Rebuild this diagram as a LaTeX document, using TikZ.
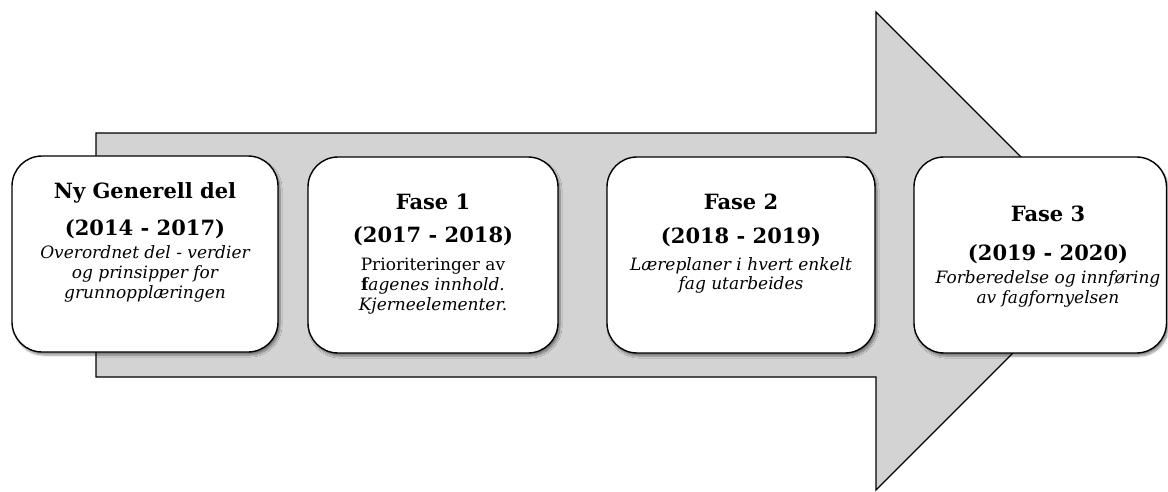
\documentclass[tikz,border=0pt]{standalone}
\usepackage{fontspec}
\setmainfont{DejaVu Serif}
\usetikzlibrary{shadows.blur}
\definecolor{arrowgray}{HTML}{D3D3D3}
\tikzset{
  phasebox/.style={draw=black, line width=1.4pt, fill=white, rounded corners=30pt,
    blur shadow={shadow xshift=2pt, shadow yshift=-3pt, shadow blur steps=6, shadow opacity=45}},
  titletxt/.style={anchor=base, inner sep=0pt, font=\fontsize{21}{24}\selectfont\bfseries},
  desctxt/.style={anchor=base, inner sep=0pt, font=\fontsize{17}{20}\selectfont\itshape},
  plaintxt/.style={anchor=base, inner sep=0pt, font=\fontsize{17}{20}\selectfont},
  bigarrow/.style={draw=black, line width=1.2pt, fill=arrowgray, line join=miter}
}
\begin{document}
\begin{tikzpicture}[x=1pt,y=-1pt]
\useasboundingbox (0,0) rectangle (1168,492);
% big arrow
\draw[bigarrow] (96,133) -- (876,133) -- (876,12) -- (1115,251) -- (876,490) -- (876,377) -- (96,377) -- cycle;
% boxes
\draw[phasebox] (12,156) rectangle (278,352);
\draw[phasebox] (308,157) rectangle (558,353);
\draw[phasebox] (607,157) rectangle (875,353);
\draw[phasebox] (914,157) rectangle (1166.5,353);
% box 1
\node[titletxt] (t1a) at (145,199) {Ny Generell del};
\node[titletxt] (t1b) at (145,235) {(2014 - 2017)};
\node[desctxt] (t1c) at (145,258) {Overordnet del - verdier};
\node[desctxt] (t1d) at (145,278) {og prinsipper for};
\node[desctxt] (t1e) at (145,298) {grunnopplæringen};
% box 2
\node[titletxt] (t2a) at (433,210) {Fase 1};
\node[titletxt] (t2b) at (433,242) {(2017 - 2018)};
\node[plaintxt] (t2c) at (433,270) {Prioriteringer av};
\node[desctxt] (t2d) at (433,290) {\textbf{\upshape f}agenes innhold.};
\node[desctxt] (t2e) at (433,310) {Kjerneelementer.};
% box 3
\node[titletxt] (t3a) at (741,210) {Fase 2};
\node[titletxt] (t3b) at (741,243) {(2018 - 2019)};
\node[desctxt] (t3c) at (741,270) {Læreplaner i hvert enkelt};
\node[desctxt] (t3d) at (741,289) {fag utarbeides};
% box 4
\node[titletxt] (t4a) at (1048,222) {Fase 3};
\node[titletxt] (t4b) at (1048,260) {(2019 - 2020)};
\node[desctxt] (t4c) at (1048,283) {Forberedelse og innføring};
\node[desctxt] (t4d) at (1048,303) {av fagfornyelsen};
\end{tikzpicture}
\end{document}
